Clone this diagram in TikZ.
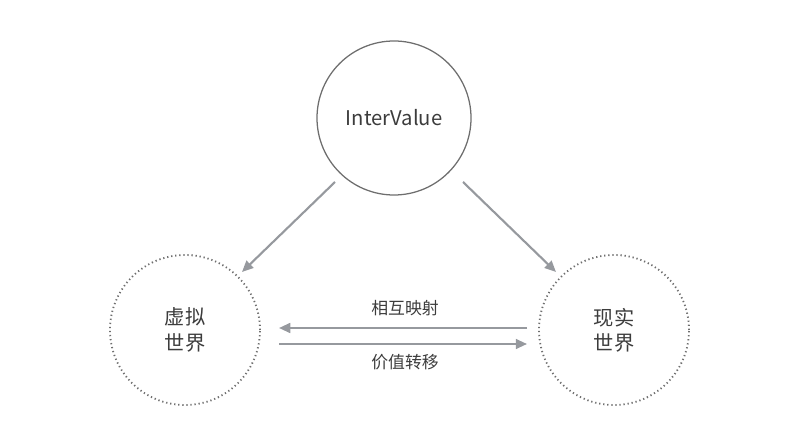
\documentclass[tikz,border=0pt]{standalone}
\usepackage{fontspec}
\setmainfont{Noto Sans CJK SC}
\usetikzlibrary{arrows.meta}
\definecolor{ringgray}{RGB}{110,110,110}
\definecolor{arrowgray}{RGB}{150,153,158}
\definecolor{textgray}{RGB}{60,60,60}
\begin{document}
\begin{tikzpicture}[x=0.025cm,y=-0.025cm]
      \useasboundingbox (0,0) rectangle (800,444);
      \tikzset{
        ring/.style={circle,draw=ringgray,line width=0.9pt,minimum size=154*0.025cm,inner sep=0pt,text=textgray,font=\Large,align=center},
        dotring/.style={ring,dotted,line width=1.3pt,minimum size=150*0.025cm},
        link/.style={draw=arrowgray,line width=1.5pt,-{Triangle[length=8pt,width=7pt]}}
      }
      \node[ring] (iv) at (394,118) {InterValue};
      \node[dotring] (xn) at (185,330) {虚拟\\世界};
      \node[dotring] (xs) at (614,330) {现实\\世界};
      \coordinate (a1) at (335,182);
      \coordinate (b1) at (242,272);
      \coordinate (a2) at (463,182);
      \coordinate (b2) at (556,272);
      \coordinate (h1) at (527,328);
      \coordinate (h2) at (279,328);
      \coordinate (h3) at (279,344);
      \coordinate (h4) at (527,344);
      \path[link] (a1) -- (b1);
      \path[link] (a2) -- (b2);
      \path[link] (h1) -- (h2);
      \path[link] (h3) -- (h4);
      \node[text=textgray,font=\large] (l1) at (405,308) {相互映射};
      \node[text=textgray,font=\large] (l2) at (405,362) {价值转移};
    \end{tikzpicture}
\end{document}
